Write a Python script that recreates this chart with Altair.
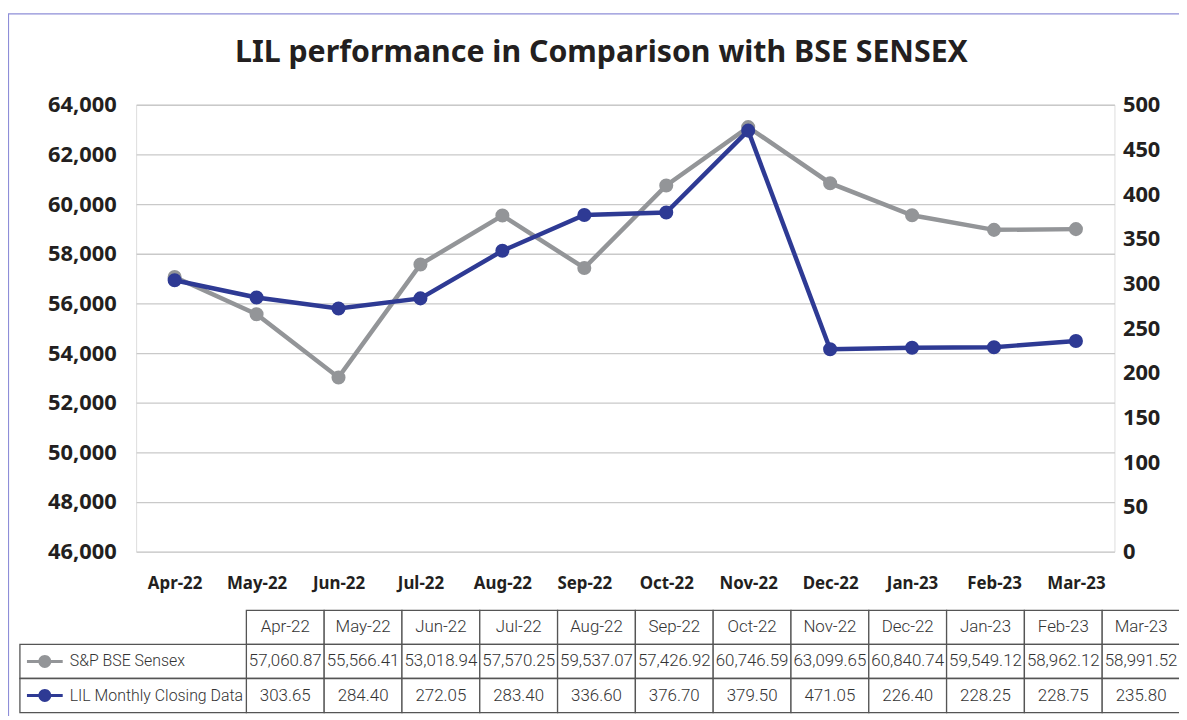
import altair as alt
import pandas as pd

# ---------------- data ----------------
months = ["Apr-22", "May-22", "Jun-22", "Jul-22", "Aug-22", "Sep-22",
          "Oct-22", "Nov-22", "Dec-22", "Jan-23", "Feb-23", "Mar-23"]
sensex = [57060.87, 55566.41, 53018.94, 57570.25, 59537.07, 57426.92,
          60746.59, 63099.65, 60840.74, 59549.12, 58962.12, 58991.52]
lil = [303.65, 284.40, 272.05, 283.40, 336.60, 376.70,
       379.50, 471.05, 226.40, 228.25, 228.75, 235.80]
series_keys = ["sensex", "lil"]
series_names = ["S&P BSE Sensex", "LIL Monthly Closing Data"]
title_text = "LIL performance in Comparison with BSE SENSEX"
sensex_ticks = list(range(46000, 64001, 2000))
lil_ticks = list(range(0, 501, 50))

# ---------------- styles ----------------
GRAY = "#939598"
BLUE = "#2E3A94"
TXT = "#231f20"
BOLD_FONT = "Noto Sans"
TAB_FONT = "Roboto"

df = pd.DataFrame({"month": months, "sensex": sensex, "lil": lil})

# table data (built from the arrays above)
tab_rows = []
for m, s, l in zip(months, sensex, lil):
    tab_rows.append({"col": m, "row": "hdr", "txt": m})
    tab_rows.append({"col": m, "row": "sensex", "txt": f"{s:,.2f}"})
    tab_rows.append({"col": m, "row": "lil", "txt": f"{l:.2f}"})
tab_df = pd.DataFrame(tab_rows)
lab_df = pd.DataFrame({"lab": ["label", "label"], "row": series_keys, "txt": series_names})

row_domain = ["hdr"] + series_keys

xscale = alt.Scale(type="point", domain=months, padding=0.47)
y_tab = alt.Scale(type="band", domain=row_domain, range=[509, 612], paddingInner=0, paddingOuter=0)
x_tab = alt.Scale(type="band", domain=months, range=[111, 1051], paddingInner=0, paddingOuter=0)
x_lab = alt.Scale(type="band", domain=["label"], range=[-117, 111], paddingInner=0, paddingOuter=0)

# frame
frame = alt.Chart(pd.DataFrame({"a": [0]})).mark_rect(
    fill=None, stroke="#8E8ED8", strokeWidth=1.2
).encode(x=alt.value(-128.5), x2=alt.value(2000), y=alt.value(-91.5), y2=alt.value(2000))

sensex_layer = alt.Chart(df).mark_line(
    color=GRAY, strokeWidth=4.5,
    point=alt.OverlayMarkDef(color=GRAY, size=200, filled=True, opacity=1)
).encode(
    x=alt.X("month:N", scale=xscale, sort=months,
            axis=alt.Axis(title=None, labelFont=BOLD_FONT, labelFontSize=17, labelFontWeight="bold",
                          labelColor=TXT, labelPadding=24, domain=False, ticks=False,
                          labelAngle=0, grid=False)),
    y=alt.Y("sensex:Q", scale=alt.Scale(domain=[46000, 64000], nice=False, zero=False),
            axis=alt.Axis(values=sensex_ticks, format=",.0f", title=None, orient="left",
                          domain=False, ticks=False, grid=True, gridColor="#c9c9c9",
                          gridWidth=1.3, labelPadding=20, labelFont=BOLD_FONT,
                          labelFontSize=22, labelFontWeight="bold", labelColor=TXT)),
)

lil_layer = alt.Chart(df).mark_line(
    color=BLUE, strokeWidth=4.5,
    point=alt.OverlayMarkDef(color=BLUE, size=200, filled=True, opacity=1)
).encode(
    x=alt.X("month:N", scale=xscale, sort=months, axis=None),
    y=alt.Y("lil:Q", scale=alt.Scale(domain=[0, 500], nice=False, zero=True),
            axis=alt.Axis(values=lil_ticks, format=".0f", title=None, orient="right",
                          domain=False, ticks=False, grid=False, labelPadding=8,
                          labelFont=BOLD_FONT, labelFontSize=22, labelFontWeight="bold",
                          labelColor=TXT)),
)

val_cells = alt.Chart(tab_df).mark_rect(fill="white", stroke="#555555", strokeWidth=1.3).encode(
    x=alt.X("col:N", scale=x_tab, sort=months, axis=None),
    y=alt.Y("row:N", scale=y_tab, sort=row_domain, axis=None),
)
val_text = alt.Chart(tab_df).mark_text(
    font=TAB_FONT, fontSize=17, fontWeight=300, color="#333333", baseline="middle", align="center"
).encode(
    x=alt.X("col:N", scale=x_tab, sort=months, axis=None),
    y=alt.Y("row:N", scale=y_tab, sort=row_domain, axis=None),
    text="txt:N",
)
lab_cells = alt.Chart(lab_df).mark_rect(fill="white", stroke="#555555", strokeWidth=1.3).encode(
    x=alt.X("lab:N", scale=x_lab, axis=None),
    y=alt.Y("row:N", scale=y_tab, sort=row_domain, axis=None),
)
lab_text = alt.Chart(lab_df).mark_text(
    font=TAB_FONT, fontSize=16, fontWeight=300, color="#333333", baseline="middle", align="left"
).encode(
    x=alt.X("lab:N", scale=x_lab, axis=None, bandPosition=0.22),
    y=alt.Y("row:N", scale=y_tab, sort=row_domain, axis=None),
    text="txt:N",
)
sym_path = "M-2.77,-0.23H2.77V0.23H-2.77Z M1,0A1,1 0 1,1 -1,0A1,1 0 1,1 1,0Z"
lab_sym = alt.Chart(lab_df).mark_point(shape=sym_path, size=169, filled=True, opacity=1).encode(
    x=alt.X("lab:N", scale=x_lab, axis=None, bandPosition=0.11),
    y=alt.Y("row:N", scale=y_tab, sort=row_domain, axis=None),
    color=alt.Color("row:N", scale=alt.Scale(domain=series_keys, range=[GRAY, BLUE]), legend=None),
)

chart = alt.layer(
    frame, sensex_layer, lil_layer, val_cells, val_text, lab_cells, lab_text, lab_sym
).resolve_scale(x="independent", y="independent", color="independent").properties(
    width=985, height=450,
    title=alt.TitleParams(title_text, font=BOLD_FONT, fontSize=30.5, fontWeight="bold",
                          color=TXT, anchor="middle", dx=-24, offset=-80, baseline="alphabetic"),
    padding={"left": 129, "top": 95, "right": 65, "bottom": 163},
    autosize=alt.AutoSizeParams(type="none"),
).configure_view(stroke=None).configure(background="white")

chart.save("out.html", embed_options={"renderer": "svg", "actions": False})
